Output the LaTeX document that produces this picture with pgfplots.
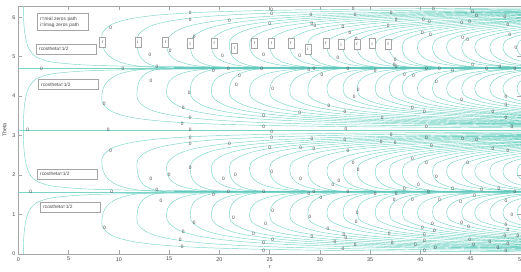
\documentclass[border=0pt]{standalone}
\usepackage{pgfplots}
\pgfplotsset{compat=1.18}
\usepackage{pgfplotstable}
\usepackage{fontspec}
\setmainfont{Liberation Sans}
\definecolor{cl}{RGB}{122,212,200}
\definecolor{cldark}{RGB}{100,200,190}
\definecolor{axgray}{RGB}{165,165,165}
\definecolor{txtgray}{RGB}{70,70,70}

% lower-quadrant zero paths (theta between 0 and pi/2), one curve per block
\pgfplotstableread{
r th
50 0.053
34.9 0.078
24.9 0.112
18.26 0.160
14.11 0.225
11.62 0.302
10.13 0.387
9.30 0.467
8.80 0.552
8.47 0.646
8.34 0.714
8.30 0.820
8.44 1.045
8.88 1.233
9.74 1.383
10.82 1.473
12.04 1.526
13.34 1.552
14.64 1.566
15.5 1.571
nan nan
50 0.083
35.4 0.120
25.96 0.172
20.06 0.242
16.52 0.325
14.40 0.416
13.22 0.503
12.51 0.596
12.04 0.701
11.86 0.777
11.80 0.900
11.87 1.101
12.10 1.269
12.54 1.403
13.10 1.484
13.72 1.531
14.39 1.554
15.06 1.566
15.5 1.571
nan nan
50 0.113
44.25 0.129
32.45 0.184
25.08 0.260
20.65 0.349
18.00 0.449
16.52 0.545
15.64 0.647
15.05 0.765
14.82 0.852
14.75 1.000
14.90 1.171
15.33 1.314
16.20 1.428
17.29 1.497
18.52 1.537
19.83 1.557
21.13 1.567
22.0 1.571
nan nan
50 0.133
37.62 0.184
29.07 0.260
23.94 0.349
20.86 0.449
19.15 0.545
18.13 0.647
17.44 0.765
17.19 0.852
17.10 1.000
17.20 1.171
17.49 1.314
18.08 1.428
18.82 1.497
19.65 1.537
20.53 1.557
21.41 1.567
22.0 1.571
nan nan
50 0.152
42.24 0.184
32.64 0.260
26.88 0.349
23.42 0.449
21.50 0.545
20.35 0.647
19.58 0.765
19.30 0.852
19.20 1.000
19.34 1.171
19.76 1.314
20.60 1.428
21.65 1.497
22.84 1.537
24.10 1.557
25.36 1.567
26.2 1.571
nan nan
50 0.168
46.2 0.184
35.7 0.260
29.4 0.349
25.62 0.449
23.52 0.545
22.26 0.647
21.42 0.765
21.10 0.852
21.00 1.000
21.10 1.171
21.42 1.314
22.04 1.428
22.82 1.497
23.70 1.537
24.64 1.557
25.58 1.567
26.2 1.571
nan nan
50 0.186
39.1 0.260
32.2 0.349
28.06 0.449
25.76 0.545
24.38 0.647
23.46 0.765
23.12 0.852
23.00 1.000
23.18 1.171
23.70 1.314
24.76 1.428
26.08 1.497
27.58 1.537
29.16 1.557
30.74 1.567
31.8 1.571
nan nan
50 0.210
42.5 0.260
35.0 0.349
30.5 0.449
28.0 0.545
26.5 0.647
25.5 0.765
25.13 0.852
25.00 1.000
25.14 1.171
25.54 1.314
26.36 1.428
27.38 1.497
28.54 1.537
29.76 1.557
30.98 1.567
31.8 1.571
nan nan
50 0.232
45.9 0.260
37.8 0.349
32.94 0.449
30.24 0.545
28.62 0.647
27.54 0.765
27.14 0.852
27.00 1.000
27.14 1.171
27.58 1.314
28.44 1.428
29.52 1.497
30.74 1.537
32.04 1.557
33.34 1.567
34.2 1.571
nan nan
50 0.253
48.96 0.260
40.32 0.349
35.14 0.449
32.26 0.545
30.53 0.647
29.38 0.765
28.94 0.852
28.80 1.000
28.91 1.171
29.23 1.314
29.88 1.428
30.69 1.497
31.61 1.537
32.58 1.557
33.55 1.567
34.2 1.571
nan nan
50 0.286
42.98 0.361
37.45 0.464
34.38 0.563
32.54 0.671
31.31 0.795
30.85 0.888
30.70 1.050
30.86 1.206
31.32 1.337
32.26 1.441
33.43 1.503
34.76 1.540
36.16 1.558
37.56 1.567
38.5 1.571
nan nan
50 0.310
45.22 0.361
39.41 0.464
36.18 0.563
34.24 0.671
32.95 0.795
32.46 0.888
32.30 1.050
32.42 1.206
32.80 1.337
33.54 1.441
34.47 1.503
35.52 1.540
36.64 1.558
37.76 1.567
38.5 1.571
nan nan
50 0.330
47.18 0.361
41.11 0.464
37.74 0.563
35.72 0.671
34.37 0.795
33.87 0.888
33.70 1.050
33.86 1.206
34.34 1.337
35.30 1.441
36.50 1.503
37.86 1.540
39.30 1.558
40.74 1.567
41.7 1.571
nan nan
50 0.360
43.31 0.464
39.76 0.563
37.63 0.671
36.21 0.795
35.68 0.888
35.50 1.050
35.62 1.206
36.00 1.337
36.74 1.441
37.67 1.503
38.72 1.540
39.84 1.558
40.96 1.567
41.7 1.571
nan nan
50 0.380
45.02 0.464
41.33 0.563
39.11 0.671
37.64 0.795
37.08 0.888
36.90 1.050
37.05 1.206
37.49 1.337
38.38 1.441
39.49 1.503
40.75 1.540
42.08 1.558
43.41 1.567
44.3 1.571
nan nan
50 0.405
46.6 0.464
42.78 0.563
40.49 0.671
38.96 0.795
38.39 0.888
38.20 1.050
38.32 1.206
38.69 1.337
39.42 1.441
40.34 1.503
41.37 1.540
42.47 1.558
43.57 1.567
44.3 1.571
nan nan
50 0.437
48.43 0.464
44.46 0.563
42.08 0.671
40.49 0.795
39.90 0.888
39.70 1.050
39.89 1.206
40.46 1.337
41.60 1.441
43.03 1.503
44.64 1.540
46.35 1.558
48.06 1.567
49.2 1.571
nan nan
50 0.469
46.14 0.563
43.67 0.671
42.02 0.795
41.41 0.888
41.20 1.050
41.36 1.206
41.84 1.337
42.80 1.441
44.00 1.503
45.36 1.540
46.80 1.558
48.24 1.567
49.2 1.571
nan nan
50 0.505
47.71 0.563
45.16 0.671
43.45 0.795
42.81 0.888
42.60 1.050
42.83 1.206
43.51 1.337
44.88 1.441
46.59 1.503
48.53 1.540
50.58 1.558
52.63 1.567
nan nan
50 0.547
49.39 0.563
46.75 0.671
44.98 0.795
44.32 0.888
44.10 1.050
44.30 1.206
44.89 1.337
46.08 1.441
47.57 1.503
49.25 1.540
51.03 1.558
nan nan
50 0.598
48.12 0.671
46.31 0.795
45.63 0.888
45.40 1.050
45.64 1.206
46.37 1.337
47.82 1.441
49.64 1.503
51.69 1.540
nan nan
50 0.666
49.71 0.671
47.84 0.795
47.13 0.888
46.90 1.050
47.11 1.206
47.75 1.337
49.02 1.441
50.61 1.503
nan nan
50 0.733
49.16 0.795
48.44 0.888
48.20 1.050
48.44 1.206
49.18 1.337
50.64 1.441
nan nan
50 0.872
49.85 0.888
49.60 1.050
49.82 1.206
50.46 1.337
}\lowcurves

% r cos(theta) = 1/2 limit curve, theta from 0 to pi/2
\pgfplotstableread{
r th
0.500 0.00
0.503 0.10
0.510 0.20
0.523 0.30
0.543 0.40
0.570 0.50
0.606 0.60
0.654 0.70
0.718 0.80
0.804 0.90
0.925 1.00
1.100 1.10
1.380 1.20
1.840 1.30
2.930 1.40
4.290 1.45
7.060 1.50
12.26 1.53
24.00 1.55
46.30 1.56
50.00 1.561
}\rcos

% contour labels "0"
\pgfplotstableread{
r th
17.1 6.11
17.1 5.94
21.0 5.91
9.2 5.74
17.5 5.50
15.1 5.15
13.1 5.04
20.3 5.01
2.3 4.70
10.4 4.70
13.8 4.74
19.4 4.63
20.9 4.70
13.2 4.39
22.0 4.51
21.7 4.28
17.0 4.08
8.55 3.79
16.4 3.69
17.1 3.46
16.3 3.29
0.93 3.14
8.95 3.14
17.1 3.14
9.2 2.61
17.1 2.94
17.1 2.80
21.0 2.80
17.1 2.18
13.2 1.89
15.0 2.00
20.4 1.89
1.23 1.57
9.3 1.57
13.8 1.61
19.4 1.49
20.9 1.57
14.2 1.34
21.6 2.00
21.4 0.92
8.6 0.67
17.5 0.78
16.4 0.56
16.1 0.35
16.3 0.18
23.4 0.51
25.2 6.19
25.2 6.09
25.0 5.82
29.1 6.05
29.2 5.82
29.5 5.77
32.3 5.75
33.3 6.22
33.5 6.05
33.0 5.59
33.6 5.44
37.1 6.11
37.6 5.92
36.8 5.77
40.3 5.92
40.9 5.88
41.3 6.22
40.2 5.59
41.0 5.54
44.2 5.48
44.7 5.42
44.1 5.86
44.9 5.88
45.2 6.13
45.6 6.03
48.4 6.01
48.7 5.80
48.9 5.54
49.5 5.21
24.4 5.04
28.0 5.01
31.8 4.98
37.5 4.91
37.4 4.78
24.2 4.68
28.9 4.66
29.4 4.70
32.8 4.70
35.5 4.64
37.6 4.74
38.4 4.53
39.3 4.51
40.6 4.70
41.9 4.70
43.2 4.63
45.2 4.78
46.6 4.70
47.9 4.74
49.4 4.70
30.2 4.53
25.3 4.19
33.8 4.15
41.6 4.36
30.9 3.75
33.4 3.97
28.0 3.58
24.4 3.49
24.4 3.22
32.5 3.60
36.2 3.44
39.2 3.69
40.4 3.60
44.1 3.90
48.5 3.98
48.5 3.77
47.2 3.60
48.5 3.44
49.1 3.22
40.6 3.22
32.6 3.18
25.2 3.10
37.1 3.01
25.2 2.94
29.2 2.92
32.5 2.89
36.1 2.84
37.5 2.82
40.6 2.94
41.1 2.73
44.2 2.92
45.6 2.89
25.0 2.68
28.1 2.68
29.4 2.65
32.8 2.61
33.3 2.31
33.8 2.14
39.2 2.42
40.6 2.31
44.7 2.30
47.2 2.65
48.7 2.61
25.2 2.08
28.1 1.89
31.3 1.76
31.9 1.85
41.6 1.96
39.8 1.74
24.4 1.57
28.9 1.51
29.4 1.57
32.8 1.57
35.5 1.51
37.6 1.51
38.4 1.64
40.8 1.57
43.2 1.64
45.4 1.47
46.1 1.61
47.8 1.65
49.4 1.57
30.1 1.43
37.4 1.37
39.2 1.37
41.9 1.36
44.0 1.32
48.5 1.34
25.3 1.09
29.0 0.94
33.7 1.05
33.6 0.81
24.6 0.75
30.8 0.63
25.3 0.35
29.2 0.43
31.5 0.30
32.4 0.47
32.6 0.41
24.4 0.29
24.4 0.08
32.3 0.12
33.5 0.22
36.9 0.51
37.2 0.29
40.2 0.67
41.2 0.77
40.4 0.47
41.4 0.58
39.5 0.22
40.4 0.33
40.4 0.08
41.5 0.16
44.1 0.78
44.8 0.69
44.9 0.35
45.3 0.22
46.9 0.30
47.7 0.16
48.5 0.73
48.7 0.61
48.4 0.46
48.7 0.25
48.5 0.08
49.1 0.99
49.7 0.46
}\zerolabels

\begin{document}
\begin{tikzpicture}
\begin{axis}[
  at={(0pt,0pt)}, anchor=south west,
  width=503pt, height=248pt, scale only axis,
  xmin=0, xmax=50, ymin=0, ymax=6.2832,
  xtick={0,5,...,50}, ytick={0,1,...,6},
  tick align=inside, major tick length=4pt,
  axis line style={axgray, line width=0.5pt},
  tick style={axgray, line width=0.5pt},
  /pgf/number format/assume math mode=true,
  every tick label/.append style={font=\fontsize{5.4}{6}\selectfont, text=txtgray},
  xticklabel style={anchor=center, yshift=-5.3pt},
  yticklabel style={anchor=center, xshift=-4.3pt},
  xlabel={r}, ylabel={Theta},
  xlabel style={at={(axis description cs:0.5,-0.0552)}, anchor=center, font=\fontsize{5.4}{6}\selectfont, text=txtgray},
  ylabel style={at={(axis description cs:-0.0274,0.5)}, anchor=center, font=\fontsize{5.4}{6}\selectfont, text=txtgray},
  title={Xi(s) Real and Imaginary Zeros with rcostheta=1/2 limits},
  title style={at={(axis description cs:0.5,1.0072)}, anchor=center, inner sep=0pt, font=\bfseries\fontsize{5.1}{6}\selectfont},
  clip=true,
  unbounded coords=jump,
]
% zero paths in the four quadrant bands
\addplot[cl, line width=0.45pt, smooth, tension=0.5] table[x=r, y=th] {\lowcurves};
\addplot[cl, line width=0.45pt, smooth, tension=0.5] table[x=r, y expr={3.14159-\thisrow{th}}] {\lowcurves};
\addplot[cl, line width=0.45pt, smooth, tension=0.5] table[x=r, y expr={3.14159+\thisrow{th}}] {\lowcurves};
\addplot[cl, line width=0.45pt, smooth, tension=0.5] table[x=r, y expr={6.28319-\thisrow{th}}] {\lowcurves};
% r cos(theta) = +-1/2 limit curves
\addplot[cl, line width=0.45pt, smooth] table[x=r, y=th] {\rcos};
\addplot[cl, line width=0.45pt, smooth] table[x=r, y expr={3.14159-\thisrow{th}}] {\rcos};
\addplot[cl, line width=0.45pt, smooth] table[x=r, y expr={3.14159+\thisrow{th}}] {\rcos};
\addplot[cl, line width=0.45pt, smooth] table[x=r, y expr={6.28319-\thisrow{th}}] {\rcos};
% horizontal zero lines
\addplot[cl, line width=0.5pt] coordinates {(0,1.5708) (50,1.5708)};
\addplot[cldark, line width=1.1pt] coordinates {(15.5,1.5708) (50,1.5708)};
\addplot[cl, line width=0.5pt] coordinates {(0,3.1416) (50,3.1416)};
\addplot[cl, line width=0.5pt] coordinates {(0,4.7124) (50,4.7124)};
\addplot[cldark, line width=1.1pt] coordinates {(15.5,4.7124) (50,4.7124)};
% contour labels
\addplot[only marks, mark=text, text mark={0}, text mark as node=true,
  text mark style={font=\fontsize{4.8}{5}\selectfont, text=txtgray, inner sep=0pt}]
  table[x=r, y=th] {\zerolabels};

% annotation boxes
\tikzset{abox/.style={draw=axgray, fill=white, line width=0.5pt, font=\fontsize{4.8}{5.8}\selectfont, text=txtgray, inner sep=0pt}}
\node[abox, anchor=north west, minimum width=51pt, minimum height=17pt, align=left, text width=45pt, inner xsep=3pt]
  at (axis cs:1.86,6.10) {r=real zeros path\\i=imag zeros path};
\node[abox, anchor=north west, minimum width=60pt, minimum height=10pt, text width=54pt, inner xsep=3pt, align=left] at (axis cs:1.76,5.32) {rcostheta=1/2};
\node[abox, anchor=north west, minimum width=60pt, minimum height=10pt, text width=54pt, inner xsep=3pt, align=left] at (axis cs:1.96,4.43) {rcostheta=1/2};
\node[abox, anchor=north west, minimum width=60pt, minimum height=10pt, text width=54pt, inner xsep=3pt, align=left] at (axis cs:1.86,2.15) {rcostheta=1/2};
\node[abox, anchor=north west, minimum width=60pt, minimum height=10pt, text width=54pt, inner xsep=3pt, align=left] at (axis cs:2.16,1.32) {rcostheta=1/2};
\tikzset{ribox/.style={draw=axgray, fill=white, line width=0.5pt, font=\fontsize{4.5}{5}\selectfont, text=txtgray, minimum width=6pt, minimum height=10pt, inner sep=0pt}}
\node[ribox] at (axis cs:8.4,5.37) {r};
\node[ribox] at (axis cs:11.9,5.37) {i};
\node[ribox] at (axis cs:14.65,5.37) {r};
\node[ribox] at (axis cs:17.1,5.33) {i};
\node[ribox] at (axis cs:19.5,5.35) {r};
\node[ribox] at (axis cs:21.5,5.22) {i};
\node[ribox] at (axis cs:23.5,5.33) {r};
\node[ribox] at (axis cs:25.2,5.33) {r};
\node[ribox] at (axis cs:27.1,5.33) {r};
\node[ribox] at (axis cs:28.8,5.19) {i};
\node[ribox] at (axis cs:30.6,5.33) {r};
\node[ribox] at (axis cs:32.1,5.31) {i};
\node[ribox] at (axis cs:33.7,5.31) {r};
\node[ribox] at (axis cs:35.2,5.33) {i};
\node[ribox] at (axis cs:36.8,5.31) {r};
\end{axis}
\pgfresetboundingbox
\useasboundingbox (-18.3pt,-18pt) rectangle (503pt,254pt);
\end{tikzpicture}
\end{document}
